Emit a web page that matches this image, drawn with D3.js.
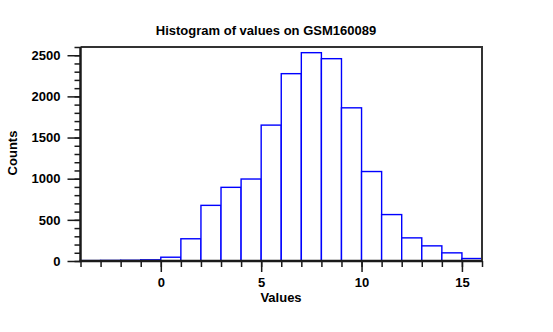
<!DOCTYPE html>
<html>
<head>
<meta charset="utf-8">
<script src="https://cdn.jsdelivr.net/npm/d3@7"></script>
<style>
  body { margin: 0; background: #fff; }
  svg { display: block; }
  text { font-family: "Liberation Sans", Arial, Helvetica, sans-serif; font-weight: bold; fill: #000; }
</style>
</head>
<body>
<svg id="chart" width="553" height="332"></svg>
<script>
// Histogram bins: lower edge of each unit-width bin and its count
const binStarts = [-4, -3, -2, -1, 0, 1, 2, 3, 4, 5, 6, 7, 8, 9, 10, 11, 12, 13, 14, 15];
const counts    = [5, 7, 9, 14, 46, 270, 676, 895, 996, 1651, 2276, 2531, 2458, 1861, 1087, 564, 281, 184, 99, 30];
const binWidth = 1;

const xTickLabels = [0, 5, 10, 15];
const yTickLabels = [0, 500, 1000, 1500, 2000, 2500];

const title = "Histogram of values on GSM160089";
const xTitle = "Values";
const yTitle = "Counts";

const svg = d3.select("#chart");
const plotLeft = 80.5, plotRight = 482, plotTop = 47, plotBottom = 261;

const x = d3.scaleLinear().domain([-4, 16]).range([plotLeft, plotRight]);
const y = d3.scaleLinear().domain([0, 2600]).range([plotBottom, plotTop]);

const axisColor = "#1a1a1a";

// bars
svg.append("g")
  .selectAll("rect")
  .data(binStarts.map((s, i) => ({ s, c: counts[i] })))
  .join("rect")
  .attr("x", d => x(d.s))
  .attr("width", d => x(d.s + binWidth) - x(d.s))
  .attr("y", d => y(d.c))
  .attr("height", d => y(0) - y(d.c))
  .attr("fill", "#fff")
  .attr("stroke", "#0000ff")
  .attr("stroke-width", 1.4);

// frame: top and right edges
svg.append("path")
  .attr("d", `M${plotLeft},${plotTop}H${plotRight}V${plotBottom}`)
  .attr("fill", "none")
  .attr("stroke", "#333")
  .attr("stroke-width", 2);

// y axis: minor ticks every 100, labelled ticks every 500
const yMinor = d3.axisLeft(y).tickValues(d3.range(0, 2601, 100)).tickSize(6).tickFormat("");
const gyMinor = svg.append("g").attr("transform", `translate(${plotLeft},0)`).call(yMinor);
const yMajor = d3.axisLeft(y).tickValues(yTickLabels).tickSize(13).tickPadding(7).tickFormat(d3.format("d"));
const gy = svg.append("g").attr("transform", `translate(${plotLeft},0)`).call(yMajor);
[gyMinor, gy].forEach(g => {
  g.select(".domain").remove();
  g.selectAll("line").attr("stroke", axisColor).attr("stroke-width", 1.5);
});
gy.selectAll("text").style("font-size", "13px").attr("font-family", null);

// x axis: minor ticks every unit, labelled ticks every 5
const xMinor = d3.axisBottom(x).tickValues(d3.range(-4, 17, 1)).tickSize(6).tickFormat("");
const gxMinor = svg.append("g").attr("transform", `translate(0,${plotBottom})`).call(xMinor);
const xMajor = d3.axisBottom(x).tickValues(xTickLabels).tickSize(11).tickPadding(6).tickFormat(d3.format("d"));
const gx = svg.append("g").attr("transform", `translate(0,${plotBottom})`).call(xMajor);
[gxMinor, gx].forEach(g => {
  g.select(".domain").remove();
  g.selectAll("line").attr("stroke", axisColor).attr("stroke-width", 1.5);
});
gx.selectAll("text").style("font-size", "13px").attr("font-family", null);

// axis lines
svg.append("line")
  .attr("x1", plotLeft).attr("x2", plotLeft).attr("y1", plotTop).attr("y2", plotBottom + 1)
  .attr("stroke", axisColor).attr("stroke-width", 2.5);
svg.append("line")
  .attr("x1", plotLeft - 1).attr("x2", plotRight).attr("y1", plotBottom).attr("y2", plotBottom)
  .attr("stroke", axisColor).attr("stroke-width", 2.5);

// titles
svg.append("text")
  .attr("x", 266).attr("y", 35)
  .attr("text-anchor", "middle")
  .style("font-size", "13px")
  .text(title);

svg.append("text")
  .attr("x", 281).attr("y", 302)
  .attr("text-anchor", "middle")
  .style("font-size", "13px")
  .text(xTitle);

svg.append("text")
  .attr("transform", "translate(17,153) rotate(-90)")
  .attr("text-anchor", "middle")
  .style("font-size", "13px")
  .text(yTitle);
</script>
</body>
</html>
